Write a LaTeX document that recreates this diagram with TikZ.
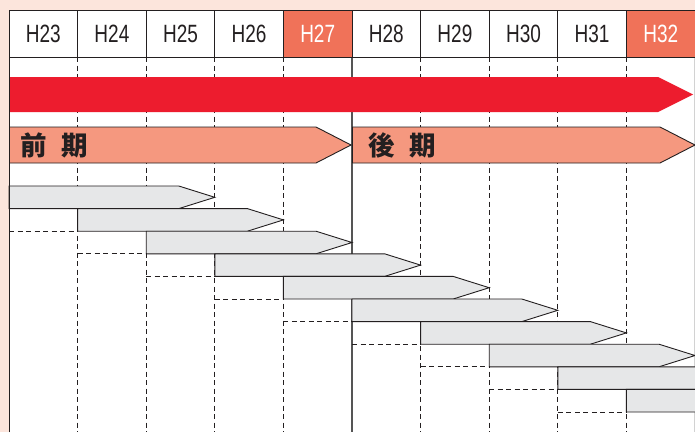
\documentclass[tikz,border=0pt]{standalone}
\usepackage{fontspec}
\setmainfont{Liberation Sans}
\newfontfamily\condfont[FakeStretch=0.76]{Liberation Sans}
\newfontfamily\cjkfont{Noto Sans CJK JP}
\definecolor{bgpink}{HTML}{FCE5DC}
\definecolor{hlred}{HTML}{F07259}
\definecolor{mainred}{HTML}{ED1C2E}
\definecolor{salmon}{HTML}{F5987F}
\definecolor{bargray}{HTML}{E6E7E8}
\definecolor{ink}{HTML}{231F20}
\definecolor{midgray}{HTML}{555555}
\tikzset{
  gridline/.style={draw=ink, line width=1pt},
  dashline/.style={draw=ink, line width=0.9pt, dash pattern=on 5pt off 3.5pt},
  midline/.style={draw=midgray, line width=1.2pt},
  barbox/.style={fill=bargray, draw=ink, line width=0.9pt, line join=miter},
  phasebox/.style={fill=salmon, draw=ink, line width=0.9pt},
  hdr/.style={font=\condfont\fontsize{25}{25}\selectfont, text=ink, inner sep=0pt},
  hdrw/.style={hdr, text=white},
  cjklab/.style={font=\cjkfont\bfseries\fontsize{26.5}{26.5}\selectfont, text=ink, inner sep=0pt, anchor=west},
}
\begin{document}
\begin{tikzpicture}[x=1pt,y=-1pt]
\def\cw{68.6}
\useasboundingbox (0,0) rectangle (695,432);
\begin{scope}
\clip (0,0) rectangle (695,432);
\fill[bgpink] (0,0) rectangle (695,432);
\fill[white] (9,10) rectangle (695,432);
% highlighted header cells
\fill[hlred] ({9+4*\cw},10) rectangle ({9+5*\cw},57);
\fill[hlred] ({9+9*\cw},10) rectangle ({9+10*\cw},57);
% dashed column guides
\foreach \k in {1,2,3,4,6,7,8,9}
  \draw[dashline] ({9+\k*\cw},57) -- ({9+\k*\cw},432);
\draw[midline] ({9+5*\cw},57) -- ({9+5*\cw},432);
\draw[draw=gray!35, line width=0.8pt] (694.5,57) -- (694.5,432);
% header grid
\draw[gridline] (9,432) -- (9,10) -- (695,10);
\draw[gridline] (9,57) -- (695,57);
\foreach \k in {1,...,9}
  \draw[gridline] ({9+\k*\cw},10) -- ({9+\k*\cw},57);
% header labels
\foreach \k/\lab in {0/23,1/24,2/25,3/26,5/28,6/29,7/30,8/31}
  \node[hdr] (h\lab) at ({9+(\k+0.5)*\cw},34) {H\lab};
\node[hdrw] (h27) at ({9+4.5*\cw},34) {H27};
\node[hdrw] (h32) at ({9+9.5*\cw},34) {H32};
% main red arrow
\fill[mainred] (9,77) -- (658,77) -- (693,94.5) -- (658,112) -- (9,112) -- cycle;
% phase arrows
\draw[phasebox] (9,127) -- (316,127) -- (351,145) -- (316,163) -- (9,163);
\draw[phasebox] (352.5,127) -- (660,127) -- (695,145) -- (660,163) -- (352.5,163) -- cycle;
\node[cjklab] (zenki) at (20.5,145.5) {前\hspace{14.5pt}期};
\node[cjklab] (kouki) at (368.5,145.5) {後\hspace{14.5pt}期};
% gray staggered bars
\foreach \i in {0,...,9} {
  \pgfmathsetmacro\xa{9+\i*\cw}
  \pgfmathsetmacro\xt{9+(\i+3)*\cw}
  \pgfmathsetmacro\xb{\xt-36}
  \pgfmathsetmacro\yt{186+22.6*\i}
  \pgfmathsetmacro\yb{\yt+22.6}
  \pgfmathsetmacro\ym{\yt+11.3}
  \draw[barbox] (\xa,\yt) -- (\xb,\yt) -- (\xt,\ym) -- (\xb,\yb) -- (\xa,\yb) -- cycle;
}
% dashed steps left of each bar
\foreach \i in {1,...,9} {
  \pgfmathsetmacro\xa{9+(\i-1)*\cw}
  \pgfmathsetmacro\xc{9+\i*\cw}
  \pgfmathsetmacro\yb{186+22.6*(\i+1)}
  \draw[dashline] (\xa,\yb) -- (\xc,\yb);
}
\draw[gridline] (9,432) -- (9,10);
\end{scope}
\end{tikzpicture}
\end{document}
